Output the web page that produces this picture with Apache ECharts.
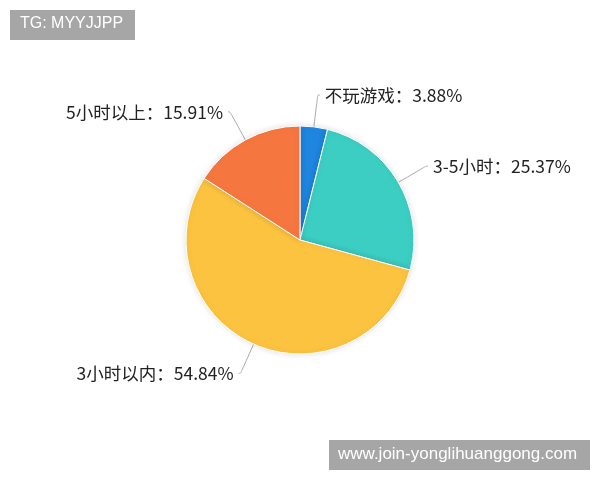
<!DOCTYPE html>
<html>
<head>
<meta charset="utf-8" />
<title>pie</title>
<script src="https://cdn.jsdelivr.net/npm/echarts@6/dist/echarts.min.js"></script>
<style>
  html, body { margin: 0; padding: 0; background: #fff; }
  #main { width: 600px; height: 480px; }
</style>
</head>
<body>
<div id="main"></div>
<script type="text/javascript">
  // data
  var names = ['不玩游戏', '3-5小时', '3小时以内', '5小时以上'];
  var values = [3.88, 25.37, 54.84, 15.91];
  var colors = ['#1f86e0', '#3ccdc3', '#fbc33f', '#f6763f'];
  var markTop = 'TG: MYYJJPP';
  var markBottom = 'www.join-yonglihuanggong.com';

  var pieData = [];
  for (var i = 0; i < names.length; i++) {
    pieData.push({ name: names[i], value: values[i], itemStyle: { color: colors[i] } });
  }

  var myChart = echarts.init(document.getElementById('main'));
  myChart.setOption({
    animation: false,
    backgroundColor: '#fff',
    graphic: [
      { type: 'rect', left: 10, top: 10, shape: { width: 125, height: 30 }, style: { fill: '#a6a6a6' } },
      { type: 'text', left: 20, top: 16, style: { text: markTop, fill: '#fff', font: '16px "Liberation Sans", Arial, sans-serif' } },
      { type: 'rect', left: 329, top: 440, shape: { width: 261, height: 30 }, style: { fill: '#a6a6a6' } },
      { type: 'text', left: 338, top: 446, style: { text: markBottom, fill: '#fff', font: '17px "Liberation Sans", Arial, sans-serif' } }
    ],
    series: [{
      type: 'pie',
      center: [300, 240],
      radius: [0, 114],
      startAngle: 90,
      clockwise: true,
      data: pieData,
      itemStyle: {
        borderColor: '#fff',
        borderWidth: 1,
        shadowBlur: 6,
        shadowColor: 'rgba(0,0,0,0.12)'
      },
      label: {
        formatter: '{b}：{c}%',
        color: '#222',
        fontSize: 17.5,
        fontFamily: '"Noto Sans CJK SC", sans-serif'
      },
      labelLine: {
        length: 32,
        length2: 2,
        smooth: true,
        lineStyle: { color: '#aaa', width: 1 }
      }
    }]
  });
</script>
</body>
</html>
